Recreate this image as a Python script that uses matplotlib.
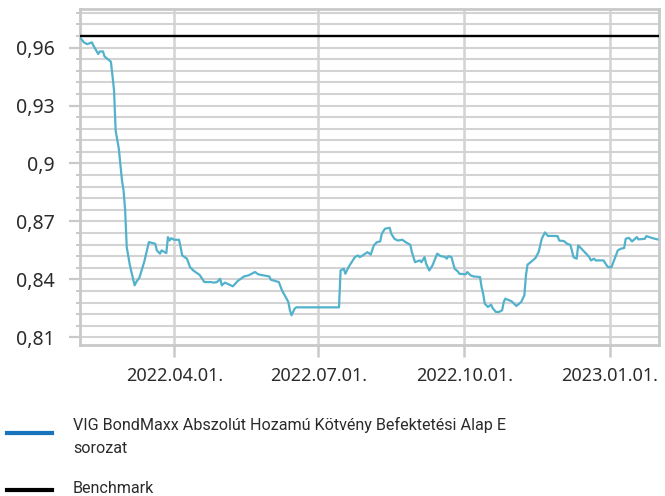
import matplotlib
matplotlib.use('Agg')
import matplotlib.pyplot as plt
from matplotlib.lines import Line2D
from matplotlib import font_manager
import numpy as np
from datetime import datetime

# ---------------- data ----------------
fund_dates = [
    "2022-02-01", "2022-02-03", "2022-02-05", "2022-02-08", "2022-02-09", "2022-02-12",
    "2022-02-13", "2022-02-15", "2022-02-16", "2022-02-20", "2022-02-21", "2022-02-22",
    "2022-02-23", "2022-02-25", "2022-02-27", "2022-02-28", "2022-03-01", "2022-03-02",
    "2022-03-04", "2022-03-07", "2022-03-08", "2022-03-10", "2022-03-13", "2022-03-16",
    "2022-03-20", "2022-03-21", "2022-03-23", "2022-03-24", "2022-03-26", "2022-03-27",
    "2022-03-28", "2022-03-29", "2022-03-30", "2022-04-01", "2022-04-04", "2022-04-05",
    "2022-04-06", "2022-04-09", "2022-04-11", "2022-04-13", "2022-04-17", "2022-04-20",
    "2022-04-24", "2022-04-26", "2022-04-28", "2022-04-30", "2022-05-01", "2022-05-03",
    "2022-05-08", "2022-05-11", "2022-05-15", "2022-05-18", "2022-05-22", "2022-05-24",
    "2022-05-27", "2022-05-31", "2022-06-01", "2022-06-06", "2022-06-08", "2022-06-12",
    "2022-06-13", "2022-06-14", "2022-06-16", "2022-06-17", "2022-07-14", "2022-07-15",
    "2022-07-17", "2022-07-18", "2022-07-20", "2022-07-24", "2022-07-26", "2022-07-27",
    "2022-07-29", "2022-08-01", "2022-08-03", "2022-08-05", "2022-08-07", "2022-08-09",
    "2022-08-10", "2022-08-12", "2022-08-15", "2022-08-16", "2022-08-18", "2022-08-20",
    "2022-08-23", "2022-08-25", "2022-08-28", "2022-08-29", "2022-08-31", "2022-09-03",
    "2022-09-04", "2022-09-06", "2022-09-07", "2022-09-09", "2022-09-11", "2022-09-14",
    "2022-09-16", "2022-09-19", "2022-09-20", "2022-09-21", "2022-09-23", "2022-09-25",
    "2022-09-27", "2022-09-28", "2022-10-02", "2022-10-03", "2022-10-05", "2022-10-07",
    "2022-10-11", "2022-10-12", "2022-10-13", "2022-10-14", "2022-10-16", "2022-10-18",
    "2022-10-19", "2022-10-21", "2022-10-23", "2022-10-25", "2022-10-26", "2022-10-27",
    "2022-10-31", "2022-11-03", "2022-11-06", "2022-11-08", "2022-11-09", "2022-11-10",
    "2022-11-12", "2022-11-15", "2022-11-17", "2022-11-19", "2022-11-21", "2022-11-23",
    "2022-11-24", "2022-11-29", "2022-11-30", "2022-12-03", "2022-12-05", "2022-12-07",
    "2022-12-08", "2022-12-09", "2022-12-11", "2022-12-12", "2022-12-14", "2022-12-17",
    "2022-12-19", "2022-12-20", "2022-12-22", "2022-12-23", "2022-12-28", "2022-12-30",
    "2022-12-31", "2023-01-02", "2023-01-04", "2023-01-06", "2023-01-08", "2023-01-10",
    "2023-01-11", "2023-01-13", "2023-01-15", "2023-01-18", "2023-01-19", "2023-01-23",
    "2023-01-24", "2023-01-28", "2023-01-31",
]
fund_values = [
    0.9647, 0.9627, 0.9618, 0.9627, 0.9610, 0.9567,
    0.9580, 0.9580, 0.9554, 0.9527, 0.9455, 0.9377,
    0.9170, 0.9077, 0.8912, 0.8860, 0.8757, 0.8567,
    0.8472, 0.8369, 0.8386, 0.8409, 0.8489, 0.8593,
    0.8584, 0.8550, 0.8533, 0.8550, 0.8541, 0.8536,
    0.8619, 0.8601, 0.8613, 0.8605, 0.8605, 0.8567,
    0.8524, 0.8507, 0.8463, 0.8446, 0.8423, 0.8386,
    0.8386, 0.8383, 0.8386, 0.8403, 0.8369, 0.8383,
    0.8364, 0.8391, 0.8415, 0.8421, 0.8438, 0.8426,
    0.8421, 0.8415, 0.8398, 0.8386, 0.8343, 0.8283,
    0.8240, 0.8214, 0.8248, 0.8255, 0.8255, 0.8446,
    0.8455, 0.8429, 0.8463, 0.8515, 0.8524, 0.8515,
    0.8524, 0.8541, 0.8528, 0.8576, 0.8593, 0.8596,
    0.8636, 0.8662, 0.8667, 0.8636, 0.8610, 0.8601,
    0.8605, 0.8593, 0.8579, 0.8541, 0.8489, 0.8498,
    0.8489, 0.8515, 0.8481, 0.8446, 0.8472, 0.8533,
    0.8521, 0.8516, 0.8507, 0.8520, 0.8515, 0.8455,
    0.8441, 0.8429, 0.8426, 0.8438, 0.8421, 0.8415,
    0.8412, 0.8360, 0.8326, 0.8274, 0.8257, 0.8269,
    0.8251, 0.8231, 0.8231, 0.8240, 0.8283, 0.8300,
    0.8286, 0.8262, 0.8283, 0.8317, 0.8421, 0.8476,
    0.8489, 0.8510, 0.8541, 0.8610, 0.8643, 0.8624,
    0.8625, 0.8624, 0.8601, 0.8598, 0.8584, 0.8579,
    0.8550, 0.8515, 0.8507, 0.8576, 0.8559, 0.8533,
    0.8515, 0.8498, 0.8507, 0.8498, 0.8498, 0.8472,
    0.8463, 0.8463, 0.8507, 0.8550, 0.8559, 0.8562,
    0.8610, 0.8615, 0.8596, 0.8619, 0.8607, 0.8610,
    0.8624, 0.8613, 0.8607,
]
benchmark_value = 0.9658

ytick_values = [0.81, 0.84, 0.87, 0.90, 0.93, 0.96]
ytick_labels = ["0,81", "0,84", "0,87", "0,9", "0,93", "0,96"]
xtick_dates = ["2022-04-01", "2022-07-01", "2022-10-01", "2023-01-01"]
xtick_labels = ["2022.04.01.", "2022.07.01.", "2022.10.01.", "2023.01.01."]

series_names = ["VIG BondMaxx Abszolút Hozamú Kötvény Befektetési Alap E\nsorozat",
                "Benchmark"]

# ---------------- style ----------------
W, H = 665, 496
fund_color = '#52B2CC'
legend_fund_color = '#1874BC'
grid_color = '#d3d3d3'
spine_color = '#c9c9c9'
text_color = '#2b2b2b'

available = {f.name for f in font_manager.fontManager.ttflist}
if 'Liberation Sans Narrow' in available:
    legend_family = ['Liberation Sans Narrow', 'DejaVu Sans']
    legend_size = 13.5
else:
    legend_family = ['Roboto', 'DejaVu Sans']
    legend_size = 11.6

fig = plt.figure(figsize=(W / 100, H / 100), dpi=100)
ax = fig.add_axes([80 / W, 1 - 345 / H, (659 - 80) / W, (345 - 9) / H])

xd = [datetime.strptime(d, '%Y-%m-%d') for d in fund_dates]
ax.plot(xd, fund_values, color=fund_color, lw=1.6, zorder=3, solid_joinstyle='round')
ax.axhline(benchmark_value, color='black', lw=1.7, zorder=4)

ax.set_xlim(datetime(2022, 1, 31, 12), datetime(2023, 2, 1))
ax.set_ylim(0.806, 0.98)

ax.set_yticks(ytick_values)
ax.set_yticklabels(ytick_labels)
ax.set_yticks(np.arange(0.81, 0.9801, 0.006), minor=True)
xt = [datetime.strptime(d, '%Y-%m-%d') for d in xtick_dates]
ax.set_xticks(xt)
ax.set_xticklabels(xtick_labels)

ax.grid(which='both', axis='y', color=grid_color, lw=1.5, zorder=1)
ax.grid(which='major', axis='x', color=grid_color, lw=1.8, zorder=1)
ax.set_axisbelow(True)

for s in ax.spines.values():
    s.set_color(spine_color)
    s.set_linewidth(2.0)

ax.tick_params(axis='y', which='major', length=8, width=1.6, color=spine_color,
               pad=10, labelsize=14, labelcolor=text_color)
ax.tick_params(axis='y', which='minor', length=3, width=1.4, color=spine_color)
ax.tick_params(axis='x', which='major', length=8.5, width=1.8, color=spine_color,
               pad=7, labelsize=13, labelcolor=text_color)
for lab in ax.get_xticklabels() + ax.get_yticklabels():
    lab.set_fontfamily(['Noto Sans', 'DejaVu Sans'])

# ---------------- legend (below chart) ----------------
fig.add_artist(Line2D([7 / W, 52 / W], [1 - 433 / H, 1 - 433 / H],
                      color=legend_fund_color, lw=3))
fig.add_artist(Line2D([7 / W, 52 / W], [1 - 489.5 / H, 1 - 489.5 / H],
                      color='black', lw=3))
lines = series_names[0].split('\n')
fig.text(73 / W, 1 - 430 / H, lines[0], fontsize=legend_size, family=legend_family,
         color=text_color, va='baseline', ha='left')
fig.text(73 / W, 1 - 453 / H, lines[1], fontsize=legend_size, family=legend_family,
         color=text_color, va='baseline', ha='left')
fig.text(73 / W, 1 - 496 / H, series_names[1], fontsize=legend_size, family=legend_family,
         color=text_color, va='bottom', ha='left')

fig.savefig('out.png', dpi=100)
